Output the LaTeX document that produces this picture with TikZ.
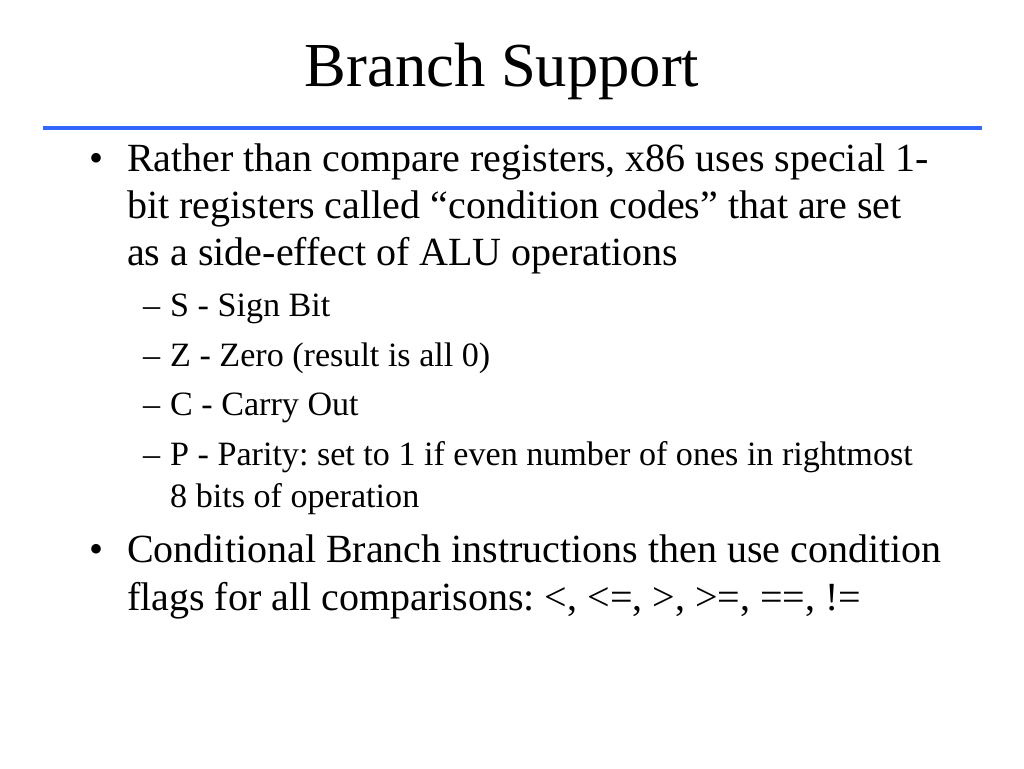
\documentclass[tikz,border=0pt]{standalone}
\usepackage{fontspec}
\setmainfont{Liberation Serif}
\usetikzlibrary{positioning}
\definecolor{rulecol}{RGB}{51,102,255}
\frenchspacing
\begin{document}
\begin{tikzpicture}[
  x=1pt, y=-1pt,
  heading/.style={anchor=base, inner sep=0pt, font=\fontsize{62.6}{75}\selectfont},
  item/.style={anchor=base west, align=left, inner sep=0pt, font=\fontsize{40}{47.3}\selectfont},
  subitem/.style={anchor=base west, align=left, inner sep=0pt, font=\fontsize{34.1}{41.5}\selectfont},
  bulmark/.style={anchor=base west, inner sep=0pt, font=\fontsize{40}{47.3}\selectfont},
  submark/.style={anchor=base west, inner sep=0pt, font=\fontsize{34.1}{41.5}\selectfont}
]
\useasboundingbox (0,0) rectangle (1024,768);

% Title
\node[heading] (title) at (502,86) {Branch Support};
\coordinate (ruleL) at (43,128);
\coordinate (ruleR) at (982,128);
\draw[rulecol, line width=4.5pt] (ruleL) -- (ruleR);

% First bullet (node placed by its last line)
\node[bulmark] (bulA) at (89,171) {•};
\node[item] (itemA) at (127,265.6) {Rather than compare registers, x86 uses special 1-\\bit registers called “condition codes” that are set\\as a side-effect of ALU operations};

% Condition codes
\node[submark] (dashS) at (143,316) {–};
\node[subitem] (subS) at (170,316) {S - Sign Bit};
\node[submark] (dashZ) at (143,366) {–};
\node[subitem] (subZ) at (170,366) {Z - Zero (result is all 0)};
\node[submark] (dashC) at (143,415.5) {–};
\node[subitem] (subC) at (170,415.5) {C - Carry Out};
\node[submark] (dashP) at (143,465.5) {–};
\node[subitem] (subP) at (170,507) {P - Parity: set to 1 if even number of ones in rightmost\\8 bits of operation};

% Second bullet
\node[bulmark] (bulB) at (89,562) {•};
\node[item, font=\fontsize{40}{48}\selectfont] (itemB) at (127,610) {Conditional Branch instructions then use condition\\flags for all comparisons: <, <=, >, >=, ==, !=};
\end{tikzpicture}
\end{document}
